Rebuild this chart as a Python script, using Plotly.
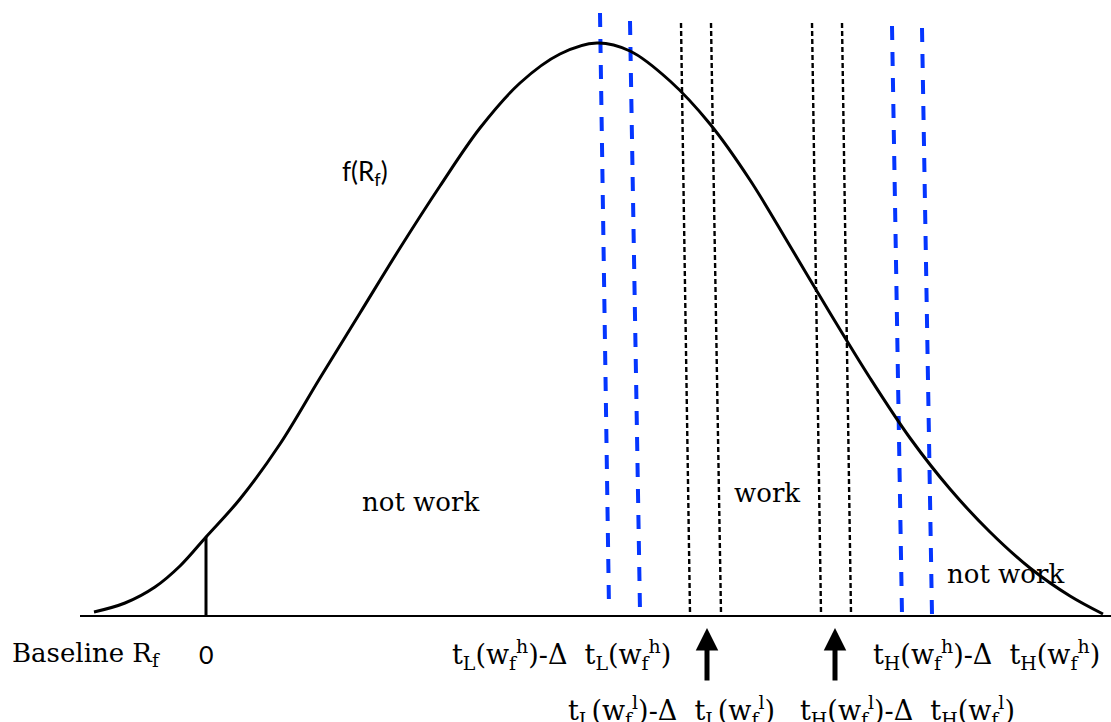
import plotly.graph_objects as go

# density curve f(R_f): position along R_f axis, height above baseline
curve_x = [94, 125, 155, 180, 206, 240, 280, 320, 360, 400, 440, 480, 520, 560, 597,
           630, 670, 710, 750, 790, 830, 870, 910, 950, 990, 1030, 1070, 1103]
curve_y = [4, 13, 29, 50, 79, 117, 172, 238, 303, 368, 430, 488, 533, 562, 573,
           565, 535, 492, 436, 370, 303, 238, 178, 127, 84, 48, 20, 2]

zero_x = 206
zero_y = 79

# threshold lines (slightly tilted in the original)
blue_top_x = [600, 630, 892, 922]
blue_bottom_x = [609, 640, 902, 932]
blue_top_y = [603, 595, 590, 588]
blue_bottom_y = [8, 5, 1, 1]

black_top_x = [681, 711, 812, 842]
black_bottom_x = [690, 721, 821, 851]
black_top_y = [593, 593, 593, 593]
black_bottom_y = [3, 3, 3, 3]

arrow_x = [707, 835]

NB = "\u00a0\u00a0"
row1_labels = [
    "t<sub>L</sub>(w<sub>f</sub><sup>h</sup>)-Δ" + NB + "t<sub>L</sub>(w<sub>f</sub><sup>h</sup>)",
    "t<sub>H</sub>(w<sub>f</sub><sup>h</sup>)-Δ" + NB + "t<sub>H</sub>(w<sub>f</sub><sup>h</sup>)",
]
row2_labels = [
    "t<sub>L</sub>(w<sub>f</sub><sup>l</sup>)-Δ" + NB + "t<sub>L</sub>(w<sub>f</sub><sup>l</sup>)",
    "t<sub>H</sub>(w<sub>f</sub><sup>l</sup>)-Δ" + NB + "t<sub>H</sub>(w<sub>f</sub><sup>l</sup>)",
]

SERIF = "DejaVu Serif"
SANS = "Lato"

fig = go.Figure()

# baseline
fig.add_shape(type="line", x0=80, x1=1111, y0=0, y1=0, xref="x", yref="y",
              line=dict(color="black", width=2))

for xt, xb, yt, yb in zip(blue_top_x, blue_bottom_x, blue_top_y, blue_bottom_y):
    fig.add_trace(go.Scatter(x=[xt, xb], y=[yt, yb], mode="lines",
                             line=dict(color="#0536FF", width=4, dash="14px,12px"),
                             showlegend=False, hoverinfo="skip"))

for xt, xb, yt, yb in zip(black_top_x, black_bottom_x, black_top_y, black_bottom_y):
    fig.add_trace(go.Scatter(x=[xt, xb], y=[yt, yb], mode="lines",
                             line=dict(color="black", width=2.4, dash="5px,3px"),
                             showlegend=False, hoverinfo="skip"))

fig.add_trace(go.Scatter(x=curve_x, y=curve_y, mode="lines", line_shape="spline",
                         line=dict(color="black", width=3, smoothing=1),
                         showlegend=False, hoverinfo="skip"))

fig.add_trace(go.Scatter(x=[zero_x, zero_x], y=[0, zero_y], mode="lines",
                         line=dict(color="black", width=3),
                         showlegend=False, hoverinfo="skip"))

for ax_ in arrow_x:
    fig.add_annotation(x=ax_, y=-12, ax=ax_, ay=-66, axref="x", ayref="y",
                       xref="x", yref="y", text="", showarrow=True,
                       arrowhead=2, arrowsize=0.9, arrowwidth=5, arrowcolor="black")

def label(text, x, y, font, size, anchor="center"):
    fig.add_annotation(x=x, y=y, xref="x", yref="y", text=text, showarrow=False,
                       xanchor=anchor, yanchor="middle",
                       font=dict(family=font, size=size, color="black"))

label("Baseline R<sub>f</sub>", 10, -38, SERIF, 26, "left")
label("0", zero_x, -38, SANS, 25)
label(row1_labels[0], 561, -38, SERIF, 27)
label(row1_labels[1], 986, -38, SERIF, 27)
label(row2_labels[0], 671, -94, SERIF, 27)
label(row2_labels[1], 907, -94, SERIF, 27)

label("f(R<sub>f</sub>)", 365, 444, SANS, 26)
label("not work", 420, 114, SERIF, 26)
label("work", 767, 123, SERIF, 26)
label("not work", 1005, 42, SERIF, 26)

fig.update_layout(
    width=1111, height=722,
    margin=dict(l=0, r=0, t=0, b=0),
    paper_bgcolor="white", plot_bgcolor="white",
    xaxis=dict(range=[0, 1111], visible=False, fixedrange=True),
    yaxis=dict(range=[-106, 616], visible=False, fixedrange=True),
)

# drop the default page margin so the figure sits at the window's corner
fig.write_html("out.html", config={"displayModeBar": False},
               post_script="document.body.style.margin = '0';")
